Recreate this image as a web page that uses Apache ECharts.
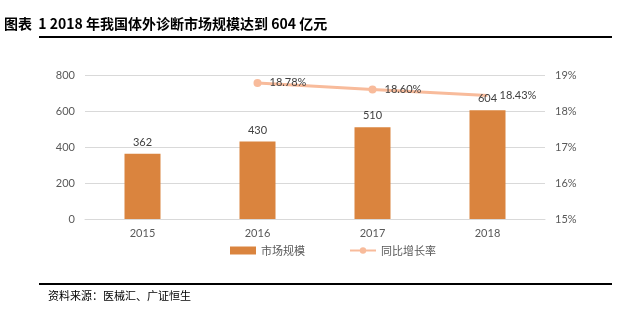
<!DOCTYPE html>
<html>
<head>
<meta charset="utf-8">
<script src="https://cdn.jsdelivr.net/npm/echarts@6/dist/echarts.min.js"></script>
<style>
  html, body { margin: 0; padding: 0; background: #fff; }
  #chart { width: 643px; height: 335px; }
</style>
</head>
<body>
<div id="chart"></div>
<script>
// 中国体外诊断市场规模（亿元）与同比增长率（%）
const years = ['2015', '2016', '2017', '2018'];
const marketSize = [362, 430, 510, 604];
const growthRate = [null, 18.78, 18.60, 18.43];

const chart = echarts.init(document.getElementById('chart'));
const labelFont = 'Lato, "Noto Sans", sans-serif';
const cjkFont = '"Noto Sans CJK SC", sans-serif';

// the last growth point sits under the "604" bar label, so its dot is left unpainted
const growthData = growthRate.map((v, i) => {
  if (i === growthRate.length - 1) {
    return { value: v, itemStyle: { color: 'rgba(0,0,0,0)' } };
  }
  return v;
});

chart.setOption({
  animation: false,
  backgroundColor: '#fff',
  grid: { left: 85, right: 98, top: 75, bottom: 116 },
  graphic: [
    {
      type: 'text', left: 4, top: 17,
      style: { text: '图表  1 2018 年我国体外诊断市场规模达到 604 亿元', font: 'bold 14px ' + cjkFont, fill: '#000' }
    },
    { type: 'rect', shape: { x: 39, y: 36, width: 573, height: 2 }, style: { fill: '#000' } },
    { type: 'rect', shape: { x: 39, y: 283, width: 573, height: 2 }, style: { fill: '#000' } },
    {
      type: 'text', left: 48, top: 290,
      style: { text: '资料来源：医械汇、广证恒生', font: '11px ' + cjkFont, fill: '#000' }
    }
  ],
  legend: {
    bottom: 74, left: 225,
    itemGap: 44, itemWidth: 26, itemHeight: 8,
    textStyle: { fontFamily: cjkFont, fontSize: 11, color: '#595959' },
    data: [
      { name: '市场规模', icon: 'rect' },
      { name: '同比增长率', itemStyle: { color: '#F8BB9B' } }
    ]
  },
  xAxis: {
    type: 'category', data: years,
    axisLine: { lineStyle: { color: '#d9d9d9' } },
    axisTick: { show: false },
    axisLabel: { color: '#595959', fontFamily: labelFont, fontSize: 11, margin: 9 }
  },
  yAxis: [
    {
      type: 'value', min: 0, max: 800, interval: 200,
      axisLabel: { color: '#595959', fontFamily: labelFont, fontSize: 11, margin: 10 },
      splitLine: { lineStyle: { color: '#d9d9d9' } },
      axisLine: { show: false }, axisTick: { show: false }
    },
    {
      type: 'value', min: 15, max: 19, interval: 1,
      axisLabel: { color: '#595959', fontFamily: labelFont, fontSize: 11, margin: 10, formatter: '{value}%' },
      splitLine: { show: false },
      axisLine: { show: false }, axisTick: { show: false }
    }
  ],
  series: [
    {
      name: '市场规模', type: 'bar', data: marketSize, barWidth: 36, z: 3,
      itemStyle: { color: '#DA843E' },
      label: { show: true, position: 'top', distance: 6, color: '#404040', fontFamily: labelFont, fontSize: 11 }
    },
    {
      name: '同比增长率', type: 'line', yAxisIndex: 1, data: growthData, z: 2,
      symbol: 'circle', symbolSize: 8,
      lineStyle: { color: '#F8BB9B', width: 3 },
      itemStyle: { color: '#F8BB9B' },
      label: {
        show: true, position: 'right', distance: 8,
        color: '#404040', fontFamily: labelFont, fontSize: 11,
        formatter: p => p.value.toFixed(2) + '%'
      }
    }
  ]
});
</script>
</body>
</html>
